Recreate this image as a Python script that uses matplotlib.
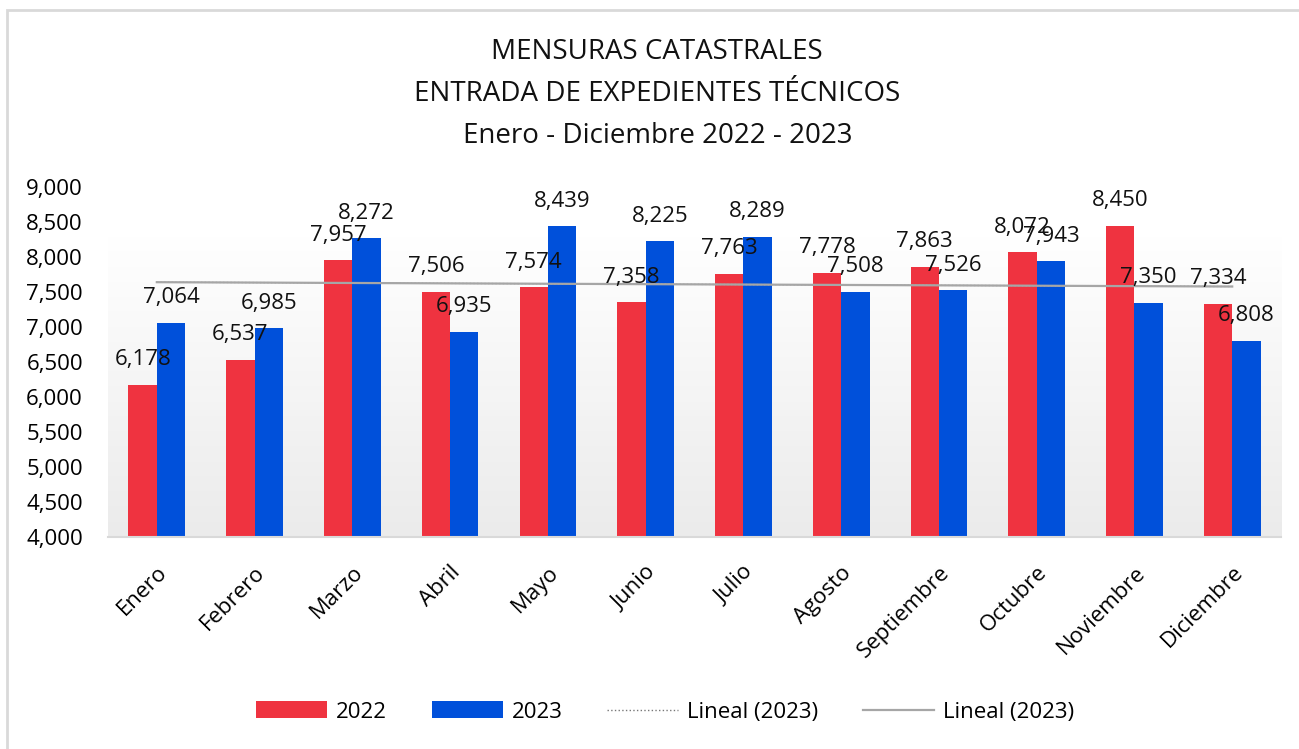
import matplotlib
import numpy as np

matplotlib.use("Agg")
import matplotlib.pyplot as plt
from matplotlib.lines import Line2D
from matplotlib.patches import Patch, Rectangle

months = ["Enero", "Febrero", "Marzo", "Abril", "Mayo", "Junio", "Julio",
          "Agosto", "Septiembre", "Octubre", "Noviembre", "Diciembre"]
values_2022 = [6178, 6537, 7957, 7506, 7574, 7358, 7763, 7778, 7863, 8072, 8450, 7334]
values_2023 = [7064, 6985, 8272, 6935, 8439, 8225, 8289, 7508, 7526, 7943, 7350, 6808]
title_lines = ["MENSURAS CATASTRALES", "ENTRADA DE EXPEDIENTES TÉCNICOS",
               "Enero - Diciembre 2022 - 2023"]

RED = "#EF3340"
BLUE = "#0050DA"
GRAY = "#A6A6A6"

plt.rcParams["font.family"] = ["Open Sans", "DejaVu Sans"]

fig = plt.figure(figsize=(12.99, 7.49), dpi=100)
ax = fig.add_axes([0.0831, 0.283, 0.9031, 0.467])

# light frame around the chart
fig.patches.append(Rectangle((7 / 1299, -0.05), 1.1, 1 - 10 / 749 + 0.05,
                             transform=fig.transFigure, fill=False,
                             edgecolor="#D9D9D9", linewidth=2))

x = np.arange(len(months))
width = 0.29

# gradient plot area
grad = np.linspace(1, 0, 256).reshape(-1, 1)
ax.imshow(grad, aspect="auto", cmap=plt.matplotlib.colors.LinearSegmentedColormap.from_list(
    "g", ["#EBEBEB", "#FFFFFF"]), extent=(-0.5, 11.5, 4000, 8300), zorder=0)

bars22 = ax.bar(x - width / 2, values_2022, width, color=RED, zorder=2)
bars23 = ax.bar(x + width / 2, values_2023, width, color=BLUE, zorder=2)

# linear trend of 2023
slope, intercept = np.polyfit(x, values_2023, 1)
trend = slope * x + intercept
ax.plot(x, trend, color=GRAY, linewidth=1.0, linestyle=":", zorder=3)
ax.plot(x, trend, color=GRAY, linewidth=1.6, zorder=3)

for bars, vals in ((bars22, values_2022), (bars23, values_2023)):
    for b, v in zip(bars, vals):
        ax.annotate(f"{v:,}", (b.get_x() + b.get_width() / 2, v),
                    xytext=(0, 18), textcoords="offset points",
                    ha="center", va="center", fontsize=16, color="#111111", zorder=4)

ax.set_xlim(-0.5, 11.5)
ax.set_ylim(4000, 9000)
ax.set_yticks(np.arange(4000, 9001, 500))
ax.set_yticklabels([f"{t:,}" for t in range(4000, 9001, 500)], fontsize=16)
ax.set_xticks(x)
ax.set_xticklabels(months, rotation=45, ha="right", va="top",
                   rotation_mode="anchor", fontsize=16)
ax.tick_params(axis="y", length=0, pad=18)
ax.tick_params(axis="x", length=0, pad=18)

for side in ("top", "right", "left"):
    ax.spines[side].set_visible(False)
ax.spines["bottom"].set_color("#D9D9D9")
ax.spines["bottom"].set_linewidth(1.5)
ax.set_facecolor("none")

for i, line in enumerate(title_lines):
    fig.text(0.506, 1 - (52 + 42 * i) / 749, line, ha="center", va="center",
             fontsize=20, fontweight="medium", color="#111111")

handles = [
    Patch(facecolor=RED, label="2022"),
    Patch(facecolor=BLUE, label="2023"),
    Line2D([], [], color="#777777", linewidth=1.0, linestyle=":", label="Lineal (2023)"),
    Line2D([], [], color=GRAY, linewidth=1.6, label="Lineal (2023)"),
]
fig.legend(handles=handles, loc="center", bbox_to_anchor=(0.512, 1 - 712 / 749),
           ncol=4, frameon=False, fontsize=16, handlelength=3.2, handleheight=0.8,
           columnspacing=2.0, handletextpad=0.4)

fig.savefig("out.png", dpi=100)
